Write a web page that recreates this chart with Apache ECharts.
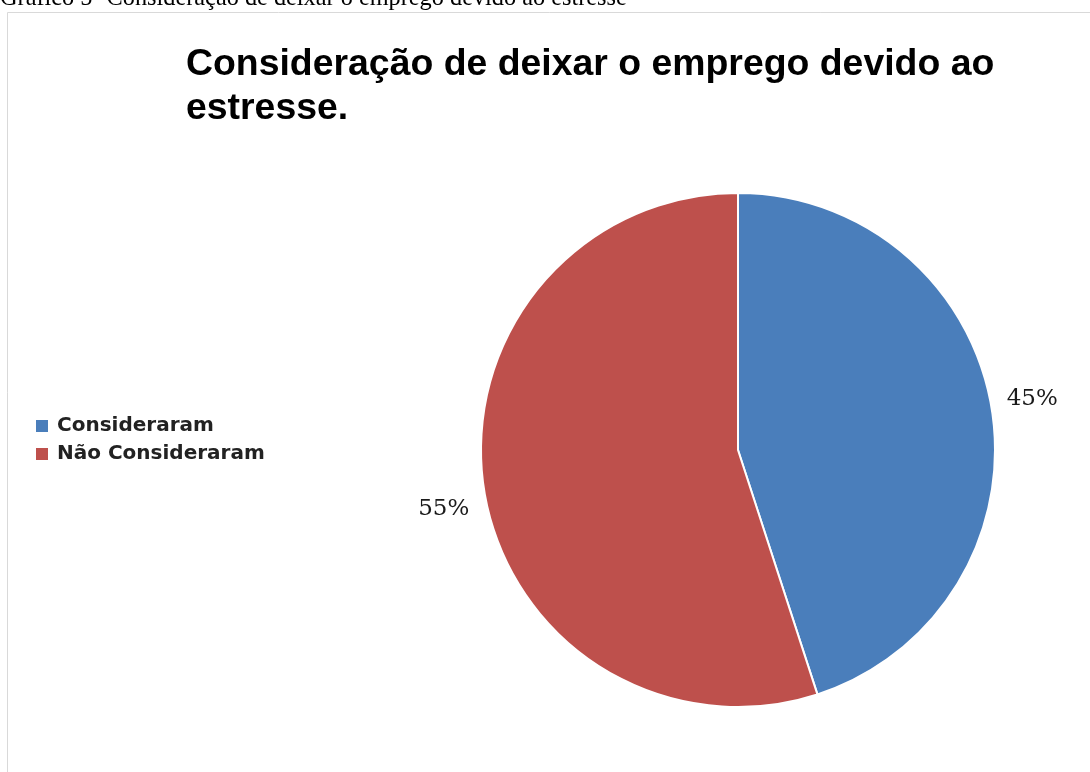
<!DOCTYPE html>
<html>
<head>
<meta charset="utf-8">
<script src="https://cdn.jsdelivr.net/npm/echarts@6/dist/echarts.min.js"></script>
<style>
html,body{margin:0;padding:0;background:#fff;}
#chart{width:1090px;height:772px;}
</style>
</head>
<body>
<div id="chart"></div>
<script>
var caption = 'Gráfico 5- Consideração de deixar o emprego devido ao estresse';
var titleText = 'Consideração de deixar o emprego devido ao\nestresse.';
var categories = ['Consideraram', 'Não Consideraram'];
var values = [45, 55];
var colors = ['#4a7ebb', '#be504c'];
// vertical nudges of the value labels (px, positive = down)
var labelShift = [-9, 17];

var chart = echarts.init(document.getElementById('chart'), null, {renderer: 'canvas'});
chart.setOption({
  animation: false,
  backgroundColor: '#ffffff',
  color: colors,
  title: {
    text: titleText,
    left: 181,
    top: 38,
    padding: 5,
    textStyle: {
      fontFamily: 'Liberation Sans, Arial, sans-serif',
      fontSize: 37.4,
      fontWeight: 'bold',
      color: '#000',
      lineHeight: 44
    }
  },
  graphic: [
    {
      type: 'rect',
      shape: {x: 7.5, y: 12.5, width: 1200, height: 900},
      style: {fill: 'none', stroke: '#d9d9d9', lineWidth: 1},
      silent: true
    },
    {
      type: 'text',
      left: 0,
      top: -13,
      style: {
        text: caption,
        font: '24.3px "Liberation Serif", "Times New Roman", serif',
        fill: '#000'
      },
      silent: true
    }
  ],
  legend: {
    orient: 'vertical',
    left: 36,
    top: 416,
    padding: 0,
    itemWidth: 12,
    itemHeight: 12,
    itemGap: 8,
    icon: 'rect',
    itemStyle: {borderWidth: 0},
    textStyle: {
      fontFamily: 'DejaVu Sans, sans-serif',
      fontSize: 20,
      fontWeight: 'bold',
      color: '#222',
      lineHeight: 20,
      padding: [0, 0, 0, 4]
    },
    data: categories
  },
  series: [{
    type: 'pie',
    center: [738, 450],
    radius: 257,
    startAngle: 90,
    clockwise: true,
    avoidLabelOverlap: false,
    itemStyle: {borderColor: '#fff', borderWidth: 2},
    label: {
      show: true,
      position: 'outside',
      formatter: '{d}%',
      fontFamily: 'DejaVu Serif, serif',
      fontSize: 23,
      color: '#1a1a1a'
    },
    labelLine: {show: false, length: 10, length2: 0},
    labelLayout: function (p) {
      return {dy: labelShift[p.dataIndex]};
    },
    emphasis: {disabled: true},
    data: categories.map(function (c, i) {
      return {name: c, value: values[i]};
    })
  }]
});
</script>
</body>
</html>
